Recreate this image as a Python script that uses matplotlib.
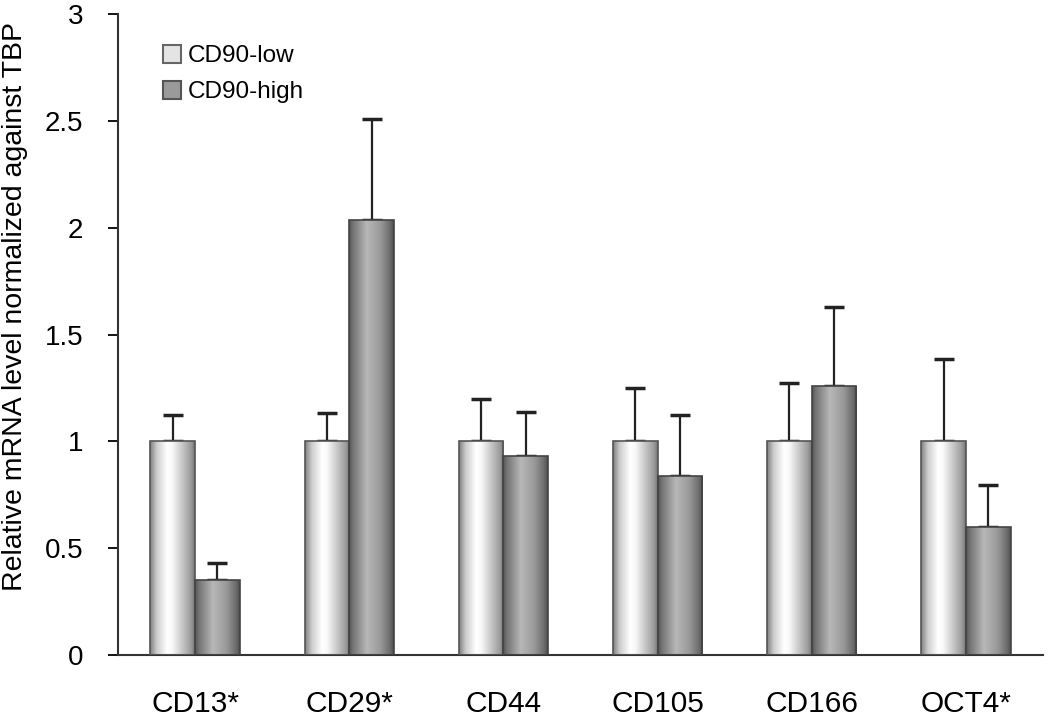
import matplotlib
matplotlib.use("Agg")
import matplotlib.pyplot as plt
from matplotlib.patches import Patch
import numpy as np

plt.rcParams['font.family'] = ['Liberation Sans', 'DejaVu Sans']

genes = ["CD13*", "CD29*", "CD44", "CD105", "CD166", "OCT4*"]
low_mean = [1.0, 1.0, 1.0, 1.0, 1.0, 1.0]
low_err = [0.123, 0.131, 0.197, 0.248, 0.271, 0.385]
high_mean = [0.35, 2.035, 0.93, 0.838, 1.26, 0.598]
high_err = [0.082, 0.475, 0.209, 0.285, 0.37, 0.197]

# cylinder-like shading profiles (style only)
light_pos = [0, 0.06, 0.15, 0.38, 0.5, 0.75, 0.92, 1]
light_val = [0.5, 0.62, 0.8, 1.0, 0.97, 0.75, 0.6, 0.45]
dark_pos = [0, 0.08, 0.4, 0.7, 0.92, 1]
dark_val = [0.33, 0.45, 0.72, 0.6, 0.42, 0.3]

fig = plt.figure(figsize=(10.5, 7.21), dpi=100)
ax = fig.add_axes([0.1124, 0.0915, 0.8809, 0.889])

x = np.arange(len(genes))
w = 0.29


def shade(bars, pos, val):
    grad = np.interp(np.linspace(0, 1, 200), pos, val).reshape(1, -1)
    for b in bars:
        x0, y0 = b.get_x(), b.get_y()
        im = ax.imshow(grad, cmap="gray", vmin=0, vmax=1, aspect="auto",
                       extent=[x0, x0 + b.get_width(), y0, y0 + b.get_height()],
                       zorder=2, interpolation="bilinear")
        im.set_clip_path(b)


b1 = ax.bar(x - w / 2, low_mean, w, facecolor="none", edgecolor="#555555",
            linewidth=1.2, zorder=3)
b2 = ax.bar(x + w / 2, high_mean, w, facecolor="none", edgecolor="#444444",
            linewidth=1.2, zorder=3)
shade(b1, light_pos, light_val)
shade(b2, dark_pos, dark_val)

ax.errorbar(x - w / 2, low_mean, yerr=[np.zeros(len(genes)), low_err], fmt="none",
            ecolor="#222222", elinewidth=1.6, capsize=7, capthick=2.5, zorder=1)
ax.errorbar(x + w / 2, high_mean, yerr=[np.zeros(len(genes)), high_err], fmt="none",
            ecolor="#222222", elinewidth=1.6, capsize=7, capthick=2.5, zorder=1)

ax.set_xlim(-0.5, len(genes) - 0.5)
ax.set_ylim(0, 3)
ax.set_yticks([0, 0.5, 1, 1.5, 2, 2.5, 3])
ax.set_yticklabels(["0", "0.5", "1", "1.5", "2", "2.5", "3"])
ax.set_xticks(x)
ax.set_xticklabels(genes, fontsize=21.5)
ax.tick_params(axis="x", length=0, pad=25)
ax.tick_params(axis="y", labelsize=20, length=7, width=1.3, pad=18, direction="out")

for s in ["top", "right"]:
    ax.spines[s].set_visible(False)
for s in ["left", "bottom"]:
    ax.spines[s].set_linewidth(1.5)
    ax.spines[s].set_color("#333333")

ax.set_ylabel("Relative mRNA level normalized against TBP", fontsize=20.5)
ax.yaxis.set_label_coords(-0.097, 0.543)

handles = [Patch(facecolor="#e4e4e4", edgecolor="#666666", linewidth=1.5),
           Patch(facecolor="#9a9a9a", edgecolor="#555555", linewidth=1.5)]
ax.legend(handles, ["CD90-low", "CD90-high"], loc="upper left",
          bbox_to_anchor=(163 / 1050, 1 - 45 / 721), bbox_transform=fig.transFigure,
          frameon=False, fontsize=17.5, handlelength=0.75, handleheight=0.75,
          handletextpad=0.25, labelspacing=0.55, borderpad=0, borderaxespad=0)

fig.savefig("out.png", dpi=100)
